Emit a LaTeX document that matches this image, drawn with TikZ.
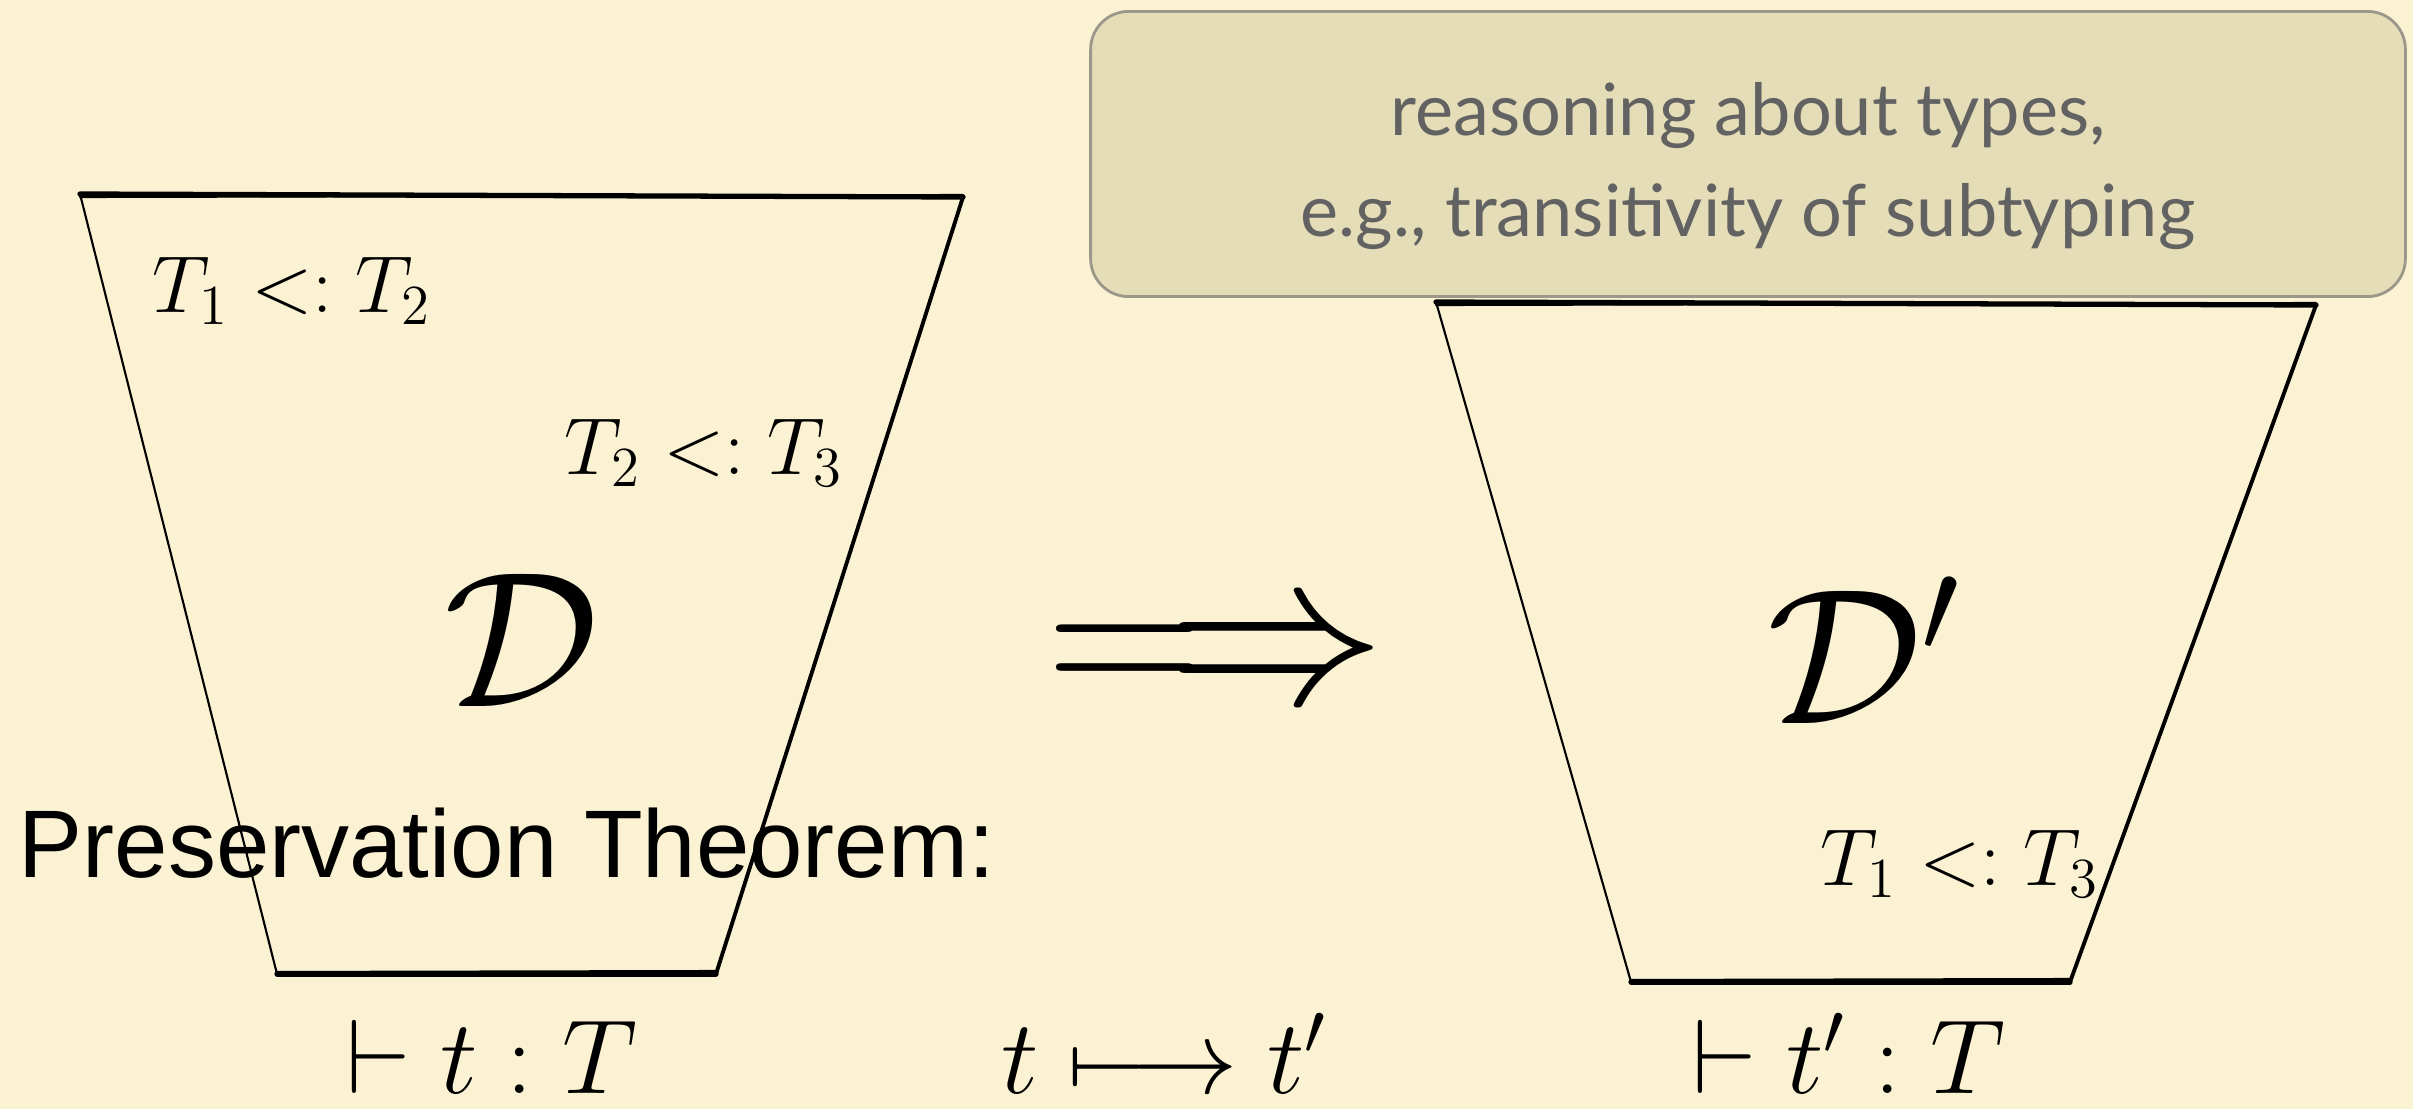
\RequirePackage{fix-cm}
\documentclass[tikz,border=0pt]{standalone}
\usepackage{fontspec}
\newfontfamily\calloutfont{Lato}
\newfontfamily\titlefont{Liberation Sans}
\definecolor{paper}{RGB}{250,242,210}
\definecolor{calloutfill}{RGB}{229,221,183}
\definecolor{calloutline}{RGB}{155,152,138}
\definecolor{callouttext}{RGB}{98,98,98}

\begin{document}
\begin{tikzpicture}[x=0.01cm,y=-0.01cm,
    thick edge/.style={line width=1.5pt,line cap=round},
    side edge/.style={line width=1.1pt,line cap=round},
    thin edge/.style={line width=0.6pt,line cap=round},
    subtype/.style={inner sep=0pt,anchor=base,font=\fontsize{23}{27}\selectfont},
    deriv/.style={inner sep=0pt,anchor=base,font=\fontsize{55}{64}\selectfont},
    judgement/.style={inner sep=0pt,anchor=base,font=\fontsize{30}{36}\selectfont},
    callout/.style={draw=calloutline,fill=calloutfill,line width=0.8pt,rounded corners=0.38cm,
                    minimum width=13.14cm,minimum height=2.85cm},
    callout text/.style={inner sep=0pt,align=center,text=callouttext,
                    font=\calloutfont\fontsize{20.5}{28.5}\selectfont}]

  \fill[paper] (0,0) rectangle (2413,1109);
  \useasboundingbox (0,0) rectangle (2413,1109);

  % left derivation
  \coordinate (ltl) at (80,194);
  \coordinate (ltr) at (963,197);
  \coordinate (lbr) at (716,974);
  \coordinate (lbl) at (277,974);
  \draw[thick edge] (ltl) -- (ltr);
  \draw[thin edge] ([yshift=-0.03cm]ltl) -- ([yshift=0.02cm]ltr);
  \draw[side edge] (ltr) -- (lbr);
  \draw[thick edge] (lbr) -- (lbl);
  \draw[thin edge] ([yshift=0.03cm]lbr) -- ([yshift=0.02cm]lbl);
  \draw[thin edge] (lbl) -- (ltl);

  % right derivation
  \coordinate (rtl) at (1436,302);
  \coordinate (rtr) at (2316,305);
  \coordinate (rbr) at (2070,982);
  \coordinate (rbl) at (1631,982);
  \draw[thick edge] (rtl) -- (rtr);
  \draw[thin edge] ([yshift=-0.03cm]rtl) -- ([yshift=0.02cm]rtr);
  \draw[side edge] (rtr) -- (rbr);
  \draw[thick edge] (rbr) -- (rbl);
  \draw[thin edge] ([yshift=0.03cm]rbr) -- ([yshift=0.02cm]rbl);
  \draw[thin edge] (rbl) -- (rtl);

  \node[callout] (note) at (1748,154) {};
  \node[callout text] (notetext) at ([yshift=-0.12cm]note.center) {reasoning about types,\\e.g., transitivity of subtyping};

  \node[subtype] (sub12) at (292,312) {$T_1 <: T_2$};
  \node[subtype] (sub23) at (704,474) {$T_2 <: T_3$};
  \node[subtype] (sub13) at (1960,885) {$T_1 <: T_3$};

  \node[deriv] (dleft) at (522,706) {$\mathcal{D}$};
  \node[inner sep=0pt,font=\fontsize{62}{70}\selectfont] (implies) at (1216,662) {$\Longrightarrow$};
  \node[deriv] (dright) at (1864,723) {$\mathcal{D}'$};

  \node[inner sep=0pt,anchor=base west,font=\titlefont\fontsize{27.3}{32}\selectfont] (thm) at (18,877) {Preservation Theorem:};

  \node[judgement] (typing) at (492,1093) {$\vdash t : T$};
  \node[judgement] (reduction) at (1164,1093) {$t \longmapsto t'$};
  \node[judgement] (typing') at (1849,1093) {$\vdash t' : T$};
\end{tikzpicture}
\end{document}
